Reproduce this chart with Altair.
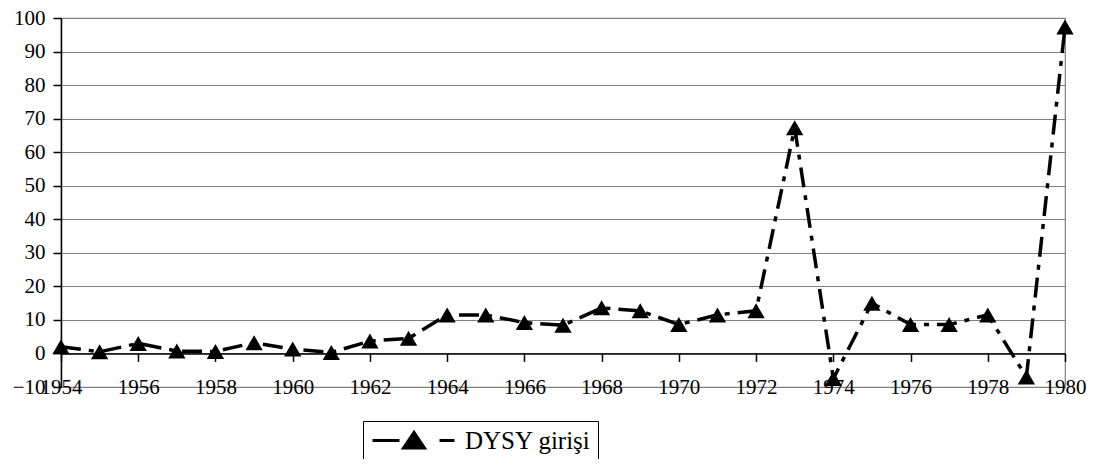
import altair as alt
import pandas as pd

years = list(range(1954, 1981))
values = [2, 0.5, 3, 0.7, 0.6, 3.2, 1.3, 0.3, 3.7, 4.5,
          11.5, 11.5, 9.2, 8.4, 13.6, 12.7, 8.6, 11.5, 12.7, 67.3,
          -7.5, 15, 8.6, 8.6, 11.5, -7, 97.3]
series_name = "DYSY girişi"
x_ticks = list(range(1954, 1981, 2))
y_ticks = list(range(-10, 101, 10))

df = pd.DataFrame({"year": years, "value": values, "series": series_name})

FONT = "Liberation Serif"

x = alt.X("year:Q",
          scale=alt.Scale(domain=[1954, 1980], nice=False, zero=False),
          axis=alt.Axis(values=x_ticks, format="d", title=None, grid=False,
                        offset=-33.6, domainColor="black", domainWidth=1.5,
                        tickColor="black", tickSize=8, tickWidth=1.5,
                        labelPadding=26, labelBaseline="middle",
                        labelFont=FONT, labelFontSize=21, labelColor="black",
                        labelFlush=False, labelOverlap=False))
y = alt.Y("value:Q",
          scale=alt.Scale(domain=[-10, 100], nice=False, zero=False),
          axis=alt.Axis(values=y_ticks, title=None, grid=True,
                        gridColor="#808080", gridWidth=1.2,
                        domainColor="black", domainWidth=1.5,
                        tickColor="black", tickSize=8, tickWidth=1.5,
                        labelPadding=8, labelFont=FONT, labelFontSize=21,
                        labelColor="black", labelOverlap=False))

line = alt.Chart(df).mark_line(
    color="black", strokeWidth=3.5, strokeDash=[20, 8, 5, 8]
).encode(x=x, y=y)

# legend glyph: long dash, triangle, short dash (unit = 10 px)
legend_path = ("M-1,0L1.7,0M2.1,0.75L3.15,-0.8L4.2,0.75Z"
               "M5.7,0L7.2,0")

points = alt.Chart(df).mark_point(
    shape="triangle-up", filled=True, size=300, opacity=1
).encode(
    x=x, y=y,
    color=alt.Color("series:N", scale=alt.Scale(range=["black"]),
                    legend=alt.Legend(
                        title=None, orient="none", legendX=302, legendY=403,
                        strokeColor="black", fillColor="white", padding=7,
                        symbolType=legend_path, symbolSize=400,
                        symbolStrokeWidth=3, symbolFillColor="black",
                        symbolStrokeColor="black", symbolOpacity=1,
                        labelOffset=70, labelFont=FONT, labelFontSize=25,
                        labelColor="black"))
)

chart = alt.layer(line, points).properties(
    width=1004, height=369,
    autosize=alt.AutoSizeParams(type="none"),
    padding={"left": 53, "top": 10, "right": 24, "bottom": 72},
).configure(font=FONT).configure_view(stroke="#808080", strokeWidth=1.2)

chart.save("out.html", embed_options={"renderer": "svg", "actions": False})
